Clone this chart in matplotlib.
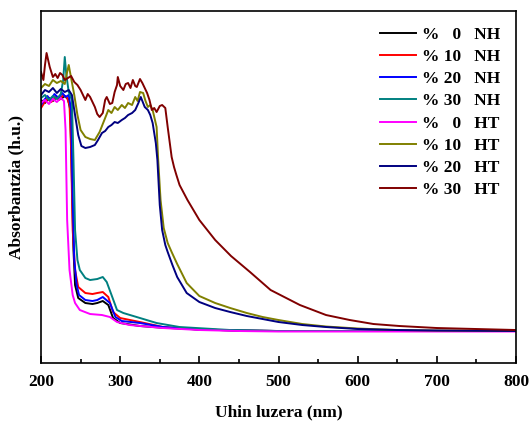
import matplotlib
matplotlib.use('Agg')
import matplotlib.pyplot as plt
from matplotlib.ticker import MultipleLocator

plt.rcParams['font.family'] = ['Liberation Serif', 'DejaVu Serif']
plt.rcParams['font.weight'] = 'bold'

# absorbance (arbitrary units)

# NH, 0 %
wl_nh0 = [200, 205, 210, 215, 220, 225, 230, 234, 237, 239, 241, 243, 247, 256, 265, 271,
          278, 285, 291, 300, 325, 350, 400, 450, 500, 800]
ab_nh0 = [2.63, 2.60, 2.65, 2.62, 2.66, 2.64, 2.67, 2.64, 2.53, 1.83, 1.13, 0.78, 0.65, 0.60, 0.59, 0.60,
          0.62, 0.58, 0.45, 0.40, 0.37, 0.355, 0.335, 0.325, 0.32, 0.32]

# NH, 10 %
wl_nh10 = [200, 204, 208, 213, 218, 223, 228, 233, 236, 238, 240, 243, 247, 256, 265, 271,
           278, 285, 291, 300, 325, 354, 400, 450, 500, 800]
ab_nh10 = [2.55, 2.60, 2.64, 2.61, 2.66, 2.63, 2.68, 2.65, 2.58, 2.13, 1.33, 0.93, 0.76, 0.70, 0.69, 0.70,
           0.71, 0.66, 0.51, 0.45, 0.41, 0.36, 0.335, 0.325, 0.32, 0.32]

# NH, 20 %
wl_nh20 = [200, 204, 208, 212, 217, 222, 227, 231, 235, 238, 240, 242, 245, 248, 256, 265,
           271, 278, 287, 294, 302, 325, 354, 400, 450, 500, 800]
ab_nh20 = [2.58, 2.63, 2.67, 2.63, 2.69, 2.65, 2.70, 2.66, 2.68, 2.53, 1.63, 1.03, 0.78, 0.68, 0.63, 0.62,
           0.63, 0.66, 0.60, 0.46, 0.42, 0.40, 0.36, 0.335, 0.325, 0.32, 0.32]

# NH, 30 %
wl_nh30 = [200, 205, 210, 215, 220, 225, 228, 230, 232, 235, 239, 241, 243, 246, 249, 256,
           262, 271, 278, 283, 290, 296, 304, 325, 346, 375, 439, 500, 800]
ab_nh30 = [2.65, 2.68, 2.63, 2.67, 2.64, 2.69, 2.83, 3.06, 2.88, 2.71, 2.63, 2.03, 1.33, 1.03, 0.93, 0.85,
           0.83, 0.84, 0.86, 0.81, 0.66, 0.53, 0.50, 0.45, 0.40, 0.36, 0.33, 0.32, 0.32]

# HT, 0 %
wl_ht0 = [200, 205, 210, 215, 220, 225, 229, 231, 233, 236, 240, 243, 249, 262, 277, 287,
          296, 312, 354, 400, 450, 500, 800]
ab_ht0 = [2.60, 2.63, 2.59, 2.64, 2.61, 2.65, 2.62, 2.33, 1.43, 0.93, 0.68, 0.60, 0.53, 0.49, 0.48, 0.46,
          0.41, 0.38, 0.35, 0.33, 0.32, 0.315, 0.315]

# HT, 10 %
wl_ht10 = [200, 205, 210, 215, 220, 225, 230, 233, 235, 238, 242, 246, 250, 256, 262, 268,
           274, 280, 285, 289, 293, 297, 302, 306, 310, 315, 319, 322, 325, 329, 332, 335,
           338, 341, 346, 348, 351, 355, 360, 365, 372, 384, 400, 420, 439, 460, 480, 500,
           530, 560, 600, 650, 700, 800]
ab_ht10 = [2.75, 2.79, 2.77, 2.83, 2.80, 2.82, 2.79, 2.91, 2.98, 2.85, 2.68, 2.48, 2.33, 2.26, 2.24, 2.23,
           2.31, 2.43, 2.53, 2.50, 2.56, 2.53, 2.58, 2.55, 2.60, 2.58, 2.66, 2.62, 2.71, 2.70, 2.62, 2.56,
           2.58, 2.53, 2.36, 2.03, 1.63, 1.35, 1.20, 1.11, 0.99, 0.80, 0.67, 0.60, 0.55, 0.50, 0.46, 0.43,
           0.39, 0.365, 0.345, 0.33, 0.325, 0.32]

# HT, 20 %
wl_ht20 = [200, 205, 210, 215, 220, 225, 230, 235, 239, 243, 247, 251, 256, 262, 268, 272,
           277, 281, 285, 289, 293, 297, 302, 306, 310, 315, 319, 323, 326, 329, 331, 335,
           338, 341, 345, 347, 350, 353, 357, 360, 366, 372, 384, 400, 420, 439, 460, 480,
           500, 530, 560, 600, 650, 700, 800]
ab_ht20 = [2.68, 2.73, 2.71, 2.75, 2.70, 2.74, 2.71, 2.73, 2.68, 2.48, 2.28, 2.17, 2.15, 2.16, 2.18, 2.23,
           2.30, 2.32, 2.36, 2.38, 2.41, 2.40, 2.43, 2.45, 2.48, 2.50, 2.53, 2.60, 2.66, 2.60, 2.56, 2.53,
           2.48, 2.40, 2.20, 2.03, 1.58, 1.33, 1.18, 1.11, 0.98, 0.86, 0.70, 0.61, 0.55, 0.51, 0.47, 0.44,
           0.41, 0.38, 0.36, 0.34, 0.33, 0.325, 0.32]

# HT, 30 %
wl_ht30 = [200, 203, 205, 207, 209, 211, 213, 215, 218, 221, 224, 227, 230, 234, 238, 242,
           246, 250, 253, 256, 259, 262, 265, 268, 271, 274, 278, 281, 283, 287, 290, 293,
           296, 297, 300, 304, 307, 310, 313, 316, 319, 321, 325, 328, 331, 334, 337, 340,
           343, 346, 350, 353, 357, 360, 363, 365, 368, 371, 375, 385, 400, 420, 440, 464,
           490, 527, 560, 590, 620, 653, 700, 750, 800]
ab_ht30 = [2.91, 2.83, 2.98, 3.10, 3.03, 2.96, 2.91, 2.86, 2.89, 2.85, 2.90, 2.88, 2.83, 2.85, 2.87, 2.81,
           2.78, 2.73, 2.68, 2.63, 2.69, 2.66, 2.61, 2.56, 2.49, 2.46, 2.50, 2.63, 2.66, 2.59, 2.60, 2.71,
           2.78, 2.86, 2.77, 2.73, 2.79, 2.80, 2.75, 2.83, 2.77, 2.76, 2.84, 2.80, 2.75, 2.70, 2.63, 2.53,
           2.55, 2.51, 2.57, 2.58, 2.55, 2.36, 2.18, 2.06, 1.96, 1.88, 1.78, 1.63, 1.43, 1.23, 1.07, 0.91,
           0.73, 0.58, 0.48, 0.43, 0.39, 0.37, 0.35, 0.34, 0.33]

series = [
    (wl_nh0, ab_nh0, 'black', '%   0   NH'),
    (wl_nh10, ab_nh10, '#ff0000', '% 10   NH'),
    (wl_nh20, ab_nh20, '#0000ff', '% 20   NH'),
    (wl_nh30, ab_nh30, '#008080', '% 30   NH'),
    (wl_ht0, ab_ht0, '#ff00ff', '%   0   HT'),
    (wl_ht10, ab_ht10, '#808000', '% 10   HT'),
    (wl_ht20, ab_ht20, '#000080', '% 20   HT'),
    (wl_ht30, ab_ht30, '#800000', '% 30   HT'),
]

fig = plt.figure(figsize=(5.30, 4.23), dpi=100)
ax = fig.add_axes([0.0774, 0.1418, 0.8962, 0.8322])

for wl, ab, col, lab in series:
    ax.plot(wl, ab, color=col, lw=1.4, label=lab)

ax.set_xlim(200, 800)
ax.set_ylim(0, 3.52)
ax.xaxis.set_major_locator(MultipleLocator(100))
ax.xaxis.set_minor_locator(MultipleLocator(50))
ax.tick_params(axis='x', which='major', direction='in', length=5, width=1.2, labelsize=12.5, pad=8)
ax.tick_params(axis='x', which='minor', direction='in', length=3, width=1.2)
ax.set_yticks([])
for sp in ax.spines.values():
    sp.set_linewidth(1.2)

ax.set_xlabel('Uhin luzera (nm)', fontsize=12.5, fontweight='bold', labelpad=10)
ax.set_ylabel('Absorbantzia (h.u.)', fontsize=12.5, fontweight='bold', labelpad=12)

ax.legend(loc='upper right', frameon=False, handlelength=2.1,
          handletextpad=0.35, labelspacing=0.35, borderaxespad=0.5,
          prop={'weight': 'bold', 'size': 12.5})

fig.savefig('out.png', dpi=100)
